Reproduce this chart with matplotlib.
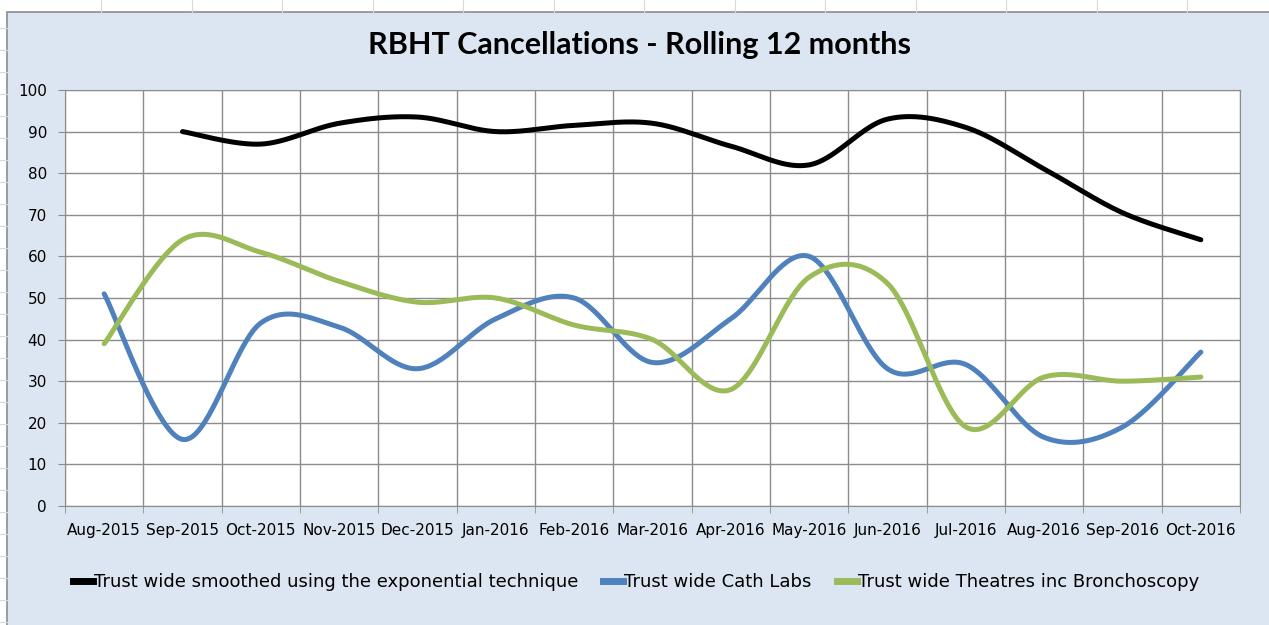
import numpy as np
import matplotlib
matplotlib.use("Agg")
import matplotlib.pyplot as plt
from matplotlib.lines import Line2D
from matplotlib.patches import Rectangle

# data
months = ["Aug-2015", "Sep-2015", "Oct-2015", "Nov-2015", "Dec-2015", "Jan-2016",
          "Feb-2016", "Mar-2016", "Apr-2016", "May-2016", "Jun-2016", "Jul-2016",
          "Aug-2016", "Sep-2016", "Oct-2016"]
smoothed = [np.nan, 90, 87, 92, 93.5, 90, 91.5, 92, 86.5, 82, 93, 91, 81, 70.5, 64]
cath_labs = [51, 16, 44, 43, 33, 45, 50, 34.5, 45, 60, 33, 34, 16.5, 19, 37]
theatres = [39, 64, 61, 54, 49, 50, 43.5, 40, 28, 55, 53.5, 19, 31, 30, 31]

series_names = ["Trust wide smoothed using the exponential technique",
                "Trust wide Cath Labs",
                "Trust wide Theatres inc Bronchoscopy"]
colors = ["#000000", "#4f81bd", "#9bbb59"]

W, H = 1269, 625
narrow = ["Liberation Sans Narrow", "DejaVu Sans"]


def smooth(xs, ys, n=40):
    # Excel-like smoothed line: cubic bezier through points (Catmull-Rom)
    xs = np.asarray(xs, float)
    ys = np.asarray(ys, float)
    ok = ~np.isnan(ys)
    xs, ys = xs[ok], ys[ok]
    px = np.concatenate([[xs[0]], xs, [xs[-1]]])
    py = np.concatenate([[ys[0]], ys, [ys[-1]]])
    outx, outy = [], []
    t = np.linspace(0, 1, n)
    for i in range(1, len(px) - 2):
        p0, p1, p2, p3 = np.array([px[i-1:i+3], py[i-1:i+3]]).T
        c1 = p1 + (p2 - p0) / 6
        c2 = p2 - (p3 - p1) / 6
        b = (((1-t)**3)[:, None] * p1 + (3*(1-t)**2*t)[:, None] * c1
             + (3*(1-t)*t**2)[:, None] * c2 + (t**3)[:, None] * p2)
        outx.extend(b[:, 0])
        outy.extend(b[:, 1])
    return outx, outy


fig = plt.figure(figsize=(W / 100, H / 100), dpi=100, facecolor="white")

# spreadsheet cell lines behind the chart
for x in np.arange(101, W, 90.5):
    fig.add_artist(Line2D([x / W, x / W], [1, 1 - 12 / H], color="#d9d9d9", lw=0.8))
for y in np.arange(28, H, 22):
    fig.add_artist(Line2D([0, 7 / W], [1 - y / H, 1 - y / H], color="#d9d9d9", lw=0.8))

# chart area
fig.add_artist(Rectangle((7 / W, -0.01), 1.0, 1 - 12 / H + 0.01, transform=fig.transFigure,
                         facecolor="#dce6f2", edgecolor="#8c8c8c", lw=1.2, zorder=0))

ax = fig.add_axes([65 / W, (H - 506) / H, 1175 / W, 416 / H])
ax.set_facecolor("white")

x = np.arange(len(months)) + 0.5
for vals, c in zip([smoothed, cath_labs, theatres], colors):
    sx, sy = smooth(x, vals)
    ax.plot(sx, sy, color=c, lw=3.6, solid_capstyle="round", zorder=3)

ax.set_xlim(0, len(months))
ax.set_ylim(0, 100)
ax.set_yticks(np.arange(0, 101, 10))
ax.set_xticks(x)
ax.set_xticklabels(months, fontfamily=narrow, fontsize=11)
ax.set_xticks(np.arange(0, len(months) + 1), minor=True)
ax.tick_params(axis="x", which="major", length=0, pad=12)
ax.tick_params(axis="x", which="minor", length=5, color="#8c8c8c")
ax.tick_params(axis="y", length=5, color="#8c8c8c", pad=8)
for lab in ax.get_yticklabels():
    lab.set_fontfamily(narrow)
    lab.set_fontsize(11)
ax.grid(True, which="minor", axis="x", color="#8c8c8c", lw=1)
ax.grid(True, which="major", axis="y", color="#8c8c8c", lw=1)
for s in ax.spines.values():
    s.set_color("#8c8c8c")

fig.text(640 / W, 1 - 45 / H, "RBHT Cancellations - Rolling 12 months",
         ha="center", va="center", fontsize=22, fontweight="bold", family="Lato")

handles = [Line2D([], [], color=c, lw=5) for c in colors]
fig.legend(handles, series_names, loc="center", bbox_to_anchor=(636 / W, 1 - 582 / H),
           ncol=3, frameon=False, handlelength=1.1, handletextpad=0.05,
           columnspacing=1.4, prop={"family": narrow, "size": 13})

fig.savefig("out.png", dpi=100, facecolor="white")
